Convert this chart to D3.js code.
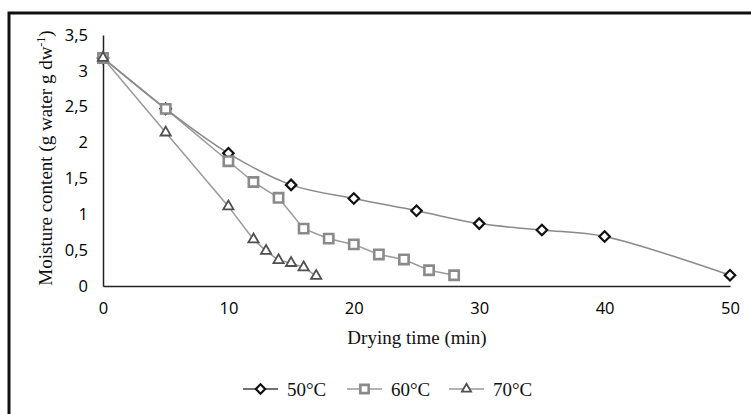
<!DOCTYPE html>
<html><head><meta charset="utf-8">
<script src="https://cdn.jsdelivr.net/npm/d3@7"></script>
<style>body{margin:0;background:#fff}svg{display:block}</style>
</head><body>
<svg id="c" width="751" height="414"></svg>
<script>
const series = ["50°C","60°C","70°C"];
const t50 = [0,5,10,15,20,25,30,35,40,50];
const m50 = [3.18,2.47,1.85,1.41,1.22,1.05,0.87,0.78,0.69,0.15];
const t60 = [0,5,10,12,14,16,18,20,22,24,26,28];
const m60 = [3.18,2.47,1.74,1.45,1.23,0.80,0.66,0.58,0.44,0.37,0.22,0.15];
const t70 = [0,5,10,12,13,14,15,16,17];
const m70 = [3.18,2.14,1.11,0.65,0.49,0.36,0.32,0.26,0.14];
const xTicks = [0,10,20,30,40,50];
const yTicks = [0,0.5,1,1.5,2,2.5,3,3.5];

const svg = d3.select("#c");
const x = d3.scaleLinear().domain([0,50]).range([103,730]);
const y = d3.scaleLinear().domain([0,3.5]).range([286,35]);

// outer frame
svg.append("rect").attr("x",9).attr("y",13).attr("width",760).attr("height",420)
  .attr("fill","none").attr("stroke","#111").attr("stroke-width",3);

// axes
const xAxis = svg.append("g").attr("transform","translate(0,286)")
  .call(d3.axisBottom(x).tickValues(xTicks).tickSize(0).tickPadding(16).tickFormat(d3.format("d")));
xAxis.select(".domain").attr("stroke","#222").attr("stroke-width",1.5);
const yAxis = svg.append("g").attr("transform","translate(103,0)")
  .call(d3.axisLeft(y).tickValues(yTicks).tickSize(0).tickPadding(15)
    .tickFormat(d => String(d).replace(".", ",")));
yAxis.select(".domain").attr("stroke","#222").attr("stroke-width",1.5);
xAxis.attr("font-size",null); yAxis.attr("font-size",null);
svg.selectAll(".tick text").style("font-family","'Open Sans', sans-serif").style("font-size","16.5px").attr("fill","#000");

// titles
svg.append("text").attr("x",417).attr("y",344).attr("text-anchor","middle")
  .attr("font-family","'Liberation Serif', serif").attr("font-size",19).attr("fill","#111")
  .text("Drying time (min)");
const yt = svg.append("text").attr("transform","translate(52,158) rotate(-90)").attr("text-anchor","middle")
  .attr("font-family","'Liberation Serif', serif").attr("font-size",19).attr("fill","#111");
yt.append("tspan").text("Moisture content (g water g dw");
yt.append("tspan").attr("dy",-7).attr("font-size",12).text("-1");
yt.append("tspan").attr("dy",7).text(")");

const lineStraight = d3.line().x(d=>x(d[0])).y(d=>y(d[1]));
const lineSmooth = d3.line().x(d=>x(d[0])).y(d=>y(d[1])).curve(d3.curveCatmullRom.alpha(0.5));

const d50 = t50.map((t,i)=>[t,m50[i]]);
const d60 = t60.map((t,i)=>[t,m60[i]]);
const d70 = t70.map((t,i)=>[t,m70[i]]);

svg.append("path").attr("d",lineStraight(d70)).attr("fill","none").attr("stroke","#9a9a9a").attr("stroke-width",1.5);
svg.append("path").attr("d",lineStraight(d60)).attr("fill","none").attr("stroke","#9a9a9a").attr("stroke-width",1.5);
svg.append("path").attr("d",lineSmooth(d50)).attr("fill","none").attr("stroke","#8a8a8a").attr("stroke-width",1.5);

const sym = {
  "50°C": {type:d3.symbolDiamond2, size:70, stroke:"#111", sw:2.2},
  "60°C": {type:d3.symbolSquare2, size:110, stroke:"#8a8a8a", sw:2.6},
  "70°C": {type:d3.symbolTriangle2, size:75, stroke:"#505050", sw:1.8}
};
function drawMarkers(data, key){
  const s = sym[key];
  svg.append("g").selectAll("path").data(data).join("path")
    .attr("transform", d=>`translate(${x(d[0])},${y(d[1])})`)
    .attr("d", d3.symbol().type(s.type).size(s.size))
    .attr("fill","#fff").attr("stroke",s.stroke).attr("stroke-width",s.sw);
}
drawMarkers(d50,"50°C");
drawMarkers(d60,"60°C");
drawMarkers(d70,"70°C");

// legend
const lx = [243,347,449];
series.forEach((name,i)=>{
  const g = svg.append("g").attr("transform",`translate(${lx[i]},389)`);
  g.append("line").attr("x1",0).attr("x2",35).attr("stroke",i==0?"#444":"#9a9a9a").attr("stroke-width",1.5);
  const s = sym[name];
  g.append("path").attr("transform","translate(17.5,0)").attr("d",d3.symbol().type(s.type).size(s.size*0.8))
    .attr("fill","#fff").attr("stroke",s.stroke).attr("stroke-width",s.sw);
  g.append("text").attr("x",44).attr("y",6.5).attr("font-family","'Liberation Serif', serif")
    .attr("font-size",19).attr("fill","#111").text(name);
});
</script>
</body></html>
